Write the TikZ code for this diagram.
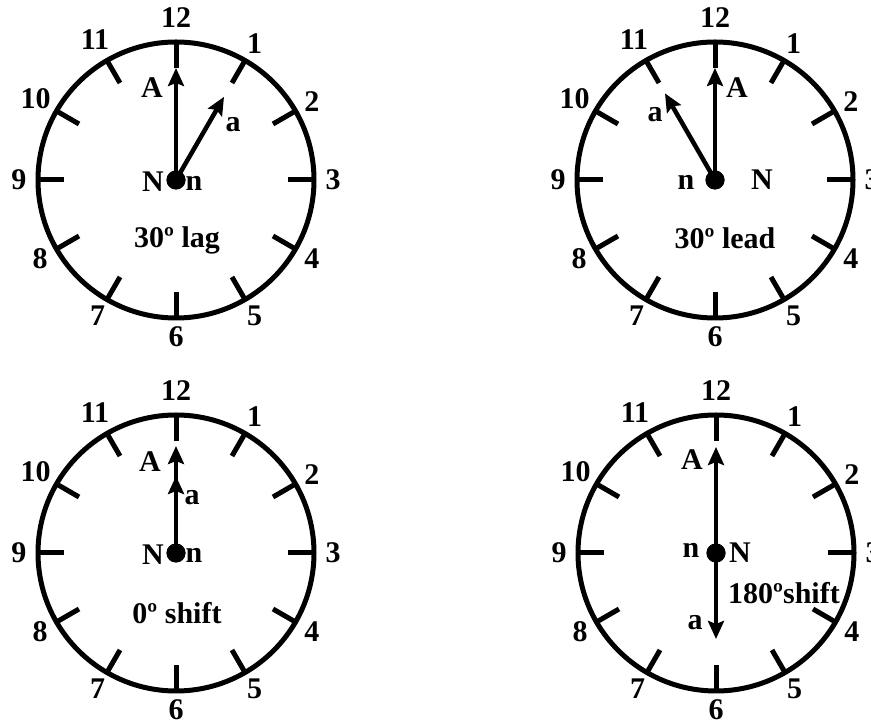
\documentclass[tikz,border=0pt]{standalone}
\usepackage{fontspec}
\setmainfont{Liberation Serif}
\usetikzlibrary{arrows.meta}
\tikzset{
  x=1pt, y=1pt,
  rim/.style={line width=5pt},
  hourtick/.style={line width=5pt},
  hand/.style={line width=4.5pt, -{Stealth[length=18pt,width=16pt,inset=3pt]}},
  lbl/.style={font=\fontsize{30}{30}\selectfont\bfseries, inner sep=0pt},
  hub/.style={circle, fill, inner sep=0pt, minimum size=19pt},
}
\newcommand\clockface[3]{%
  \begin{scope}[shift={(#2,#3)}]
    \coordinate (#1) at (0,0);
    \draw[rim] (0,0) circle[radius=138];
    \foreach \k in {1,...,12} {
      \draw[hourtick] ({90-30*\k}:140) -- ({90-30*\k}:112);
    }
    \foreach \k in {1,...,9} {
      \node[lbl] (#1-n\k) at ({90-30*\k}:157) {\k};
    }
    \foreach \k in {10,11,12} {
      \node[lbl] (#1-n\k) at ({90-30*\k}:162) {\k};
    }
  \end{scope}
}
\begin{document}
\begin{tikzpicture}
\useasboundingbox (0,0) rectangle (871,723);
\clip (0,0) rectangle (871,723);

% ---------- top left: 30 lag ----------
\clockface{TL}{176}{543}
\begin{scope}[shift={(176,543)}]
  \node[hub] (TLhub) at (0,0) {};
  \coordinate (TLA) at (90:112);
  \coordinate (TLa) at (60:96);
  \draw[hand] (TLhub.center) -- (TLA);
  \draw[hand] (TLhub.center) -- (TLa);
  \node[hub] at (TLhub) {};
  \node[lbl] (TLlA) at (-24,92) {A};
  \node[lbl] (TLla) at (57,55) {a};
  \node[lbl] (TLlN) at (-23,-2) {N};
  \node[lbl] (TLln) at (18,-3) {n};
  \node[lbl] (TLt) at (1,-60) {30º lag};
\end{scope}

% ---------- top right: 30 lead ----------
\clockface{TR}{715}{543}
\begin{scope}[shift={(715,543)}]
  \node[hub] (TRhub) at (0,0) {};
  \coordinate (TRA) at (90:112);
  \coordinate (TRa) at (120:100);
  \draw[hand] (TRhub.center) -- (TRA);
  \draw[hand] (TRhub.center) -- (TRa);
  \node[hub] at (TRhub) {};
  \node[lbl] (TRlA) at (22,92) {A};
  \node[lbl] (TRla) at (-60,65) {a};
  \node[lbl] (TRln) at (-29,-2) {n};
  \node[lbl] (TRlN) at (47,0) {N};
  \node[lbl] (TRt) at (10,-58) {30º lead};
\end{scope}

% ---------- bottom left: 0 shift ----------
\clockface{BL}{176}{170}
\begin{scope}[shift={(176,170)}]
  \node[hub] (BLhub) at (0,0) {};
  \coordinate (BLA) at (90:107);
  \coordinate (BLa) at (90:77);
  \draw[hand] (BLhub.center) -- (BLA);
  \draw[hand] (BLhub.center) -- (BLa);
  \node[hub] at (BLhub) {};
  \node[lbl] (BLlA) at (-26,91) {A};
  \node[lbl] (BLla) at (16,55) {a};
  \node[lbl] (BLlN) at (-23,-2) {N};
  \node[lbl] (BLln) at (18,-2) {n};
  \node[lbl] (BLt) at (1,-60) {0º shift};
\end{scope}

% ---------- bottom right: 180 shift ----------
\clockface{BR}{716}{170}
\begin{scope}[shift={(716,170)}]
  \node[hub] (BRhub) at (0,0) {};
  \coordinate (BRA) at (90:106);
  \coordinate (BRa) at (-90:86);
  \draw[hand] (BRhub.center) -- (BRA);
  \draw[hand] (BRhub.center) -- (BRa);
  \node[hub] at (BRhub) {};
  \node[lbl] (BRlA) at (-24,93) {A};
  \node[lbl] (BRln) at (-25,3) {n};
  \node[lbl] (BRlN) at (24,0) {N};
  \node[lbl] (BRla) at (-21,-70) {a};
  \node[lbl] (BRt) at (68,-40) {180ºshift};
\end{scope}
\end{tikzpicture}
\end{document}
